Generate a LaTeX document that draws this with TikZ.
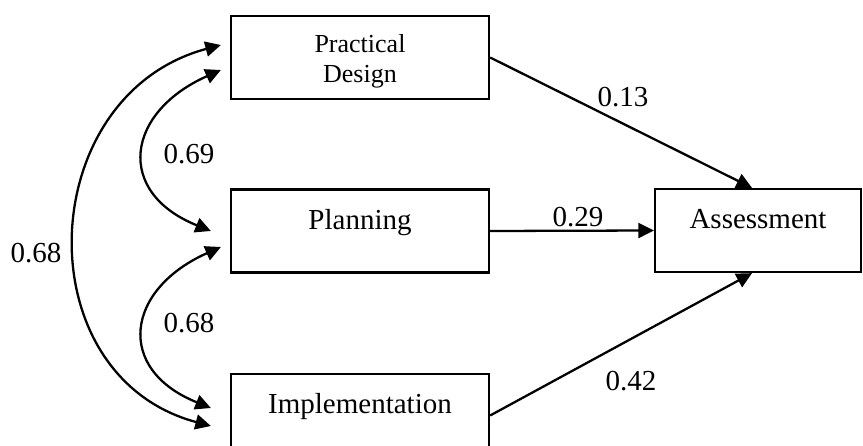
\documentclass[tikz,border=0pt]{standalone}
\usepackage{fontspec}
\setmainfont{Liberation Serif}
\usetikzlibrary{arrows.meta}

\begin{document}
\begin{tikzpicture}[
  box/.style={draw=black, line width=1.3pt, rectangle, inner sep=0pt,
    minimum width=5.16cm, minimum height=1.66cm,
    text height=0.8cm, text depth=0.86cm, font=\fontsize{16.5}{19.8}\selectfont},
  link/.style={black, line width=1.3pt, -{Triangle[length=0.31cm,width=0.3cm]}},
  cov/.style={black, line width=1.3pt, {Triangle[length=0.31cm,width=0.3cm]}-{Triangle[length=0.31cm,width=0.3cm]}},
  coef/.style={font=\fontsize{16.5}{19.8}\selectfont}
]

\useasboundingbox (0,0) rectangle (17.26,8.92);

\clip (0,0) rectangle (17.26,8.92);

\node[box, align=center, text height=1.34cm, text depth=0.32cm,
  font=\fontsize{14.8}{17.6}\selectfont] (design) at (7.2,7.77) {Practical\\Design};

\node[box] (planning) at (7.2,4.3) {Planning};

\node[box] (implem) at (7.2,0.61) {Implementation};

\node[box, minimum width=4.12cm] (assess) at (15.16,4.31) {Assessment};

\draw[link] (design.east) -- ([xshift=-0.12cm]assess.north);

\draw[link] (planning.east) -- (assess.west);

\draw[link] (implem.east) -- ([xshift=-0.12cm]assess.south);

\draw[cov] ([xshift=-0.18cm,yshift=0.25cm]design.west) to[out=195,in=165,looseness=1.3] ([xshift=-0.38cm,yshift=-0.21cm]implem.west);

\draw[cov] ([xshift=-0.18cm,yshift=-0.25cm]design.west) to[out=204,in=158,looseness=1.65] ([xshift=-0.38cm]planning.west);

\draw[cov] ([xshift=-0.18cm,yshift=-0.32cm]planning.west) to[out=204,in=158,looseness=1.65] ([xshift=-0.38cm,yshift=0.15cm]implem.west);

\node[coef] (c13) at (12.46,6.98) {0.13};

\node[coef] (c29) at (11.56,4.58) {0.29};

\node[coef] (c42) at (12.62,1.30) {0.42};

\node[coef] (c69) at (3.78,5.84) {0.69};

\node[coef] (c68in) at (3.78,2.46) {0.68};

\node[coef] (c68out) at (0.72,3.86) {0.68};

\end{tikzpicture}
\end{document}
